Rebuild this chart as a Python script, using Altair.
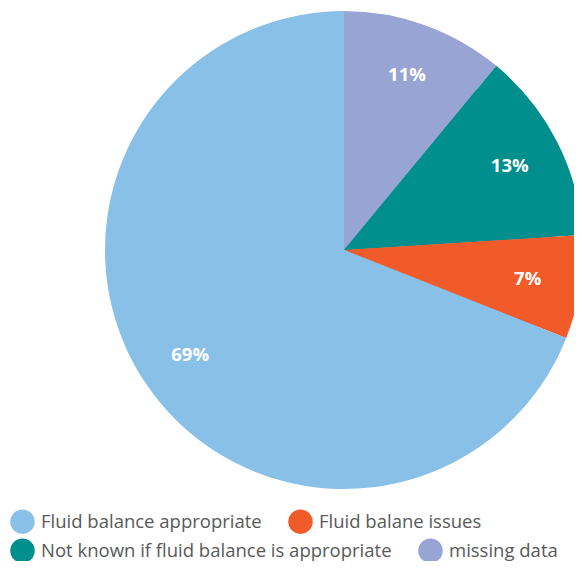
import altair as alt
import pandas as pd

categories = ["missing data", "Not known if fluid balance is appropriate", "Fluid balane issues", "Fluid balance appropriate"]
values = [11, 13, 7, 69]
labels = ["11%", "13%", "7%", "69%"]
colors = ["#98A5D4", "#008F8C", "#F15A29", "#88C0E8"]
legend_rows = [2, 2, 1, 1]
order = [1, 2, 3, 4]

df = pd.DataFrame({
    "category": categories,
    "value": values,
    "label": labels,
    "row": legend_rows,
    "order": order,
})

CX, CY, R = 336, 242, 239
FONT = "Open Sans"

row1 = ["Fluid balance appropriate", "Fluid balane issues"]
row1_colors = ["#88C0E8", "#F15A29"]
row2 = ["Not known if fluid balance is appropriate", "missing data"]
row2_colors = ["#008F8C", "#98A5D4"]


def legend(x, y):
    return alt.Legend(
        title=None, orient="none", legendX=x, legendY=y, direction="horizontal",
        symbolType="circle", symbolSize=600, symbolStrokeWidth=0,
        labelFont=FONT, labelFontSize=18.5, labelColor="#595959",
        labelOffset=6, columnPadding=26, padding=0, labelLimit=500,
    )


base = alt.Chart(df)

leg1 = base.transform_filter(alt.datum.row == 1).mark_arc(radius=R - 30).encode(
    theta=alt.Theta("value:Q", stack=True),
    order=alt.Order("order:Q"),
    x=alt.value(CX), y=alt.value(CY),
    color=alt.Color("category:N", scale=alt.Scale(domain=row1, range=row1_colors), legend=legend(2, 501)),
)

leg2 = base.transform_filter(alt.datum.row == 2).mark_arc(radius=R - 30).encode(
    theta=alt.Theta("value:Q", stack=True),
    order=alt.Order("order:Q"),
    x=alt.value(CX), y=alt.value(CY),
    color=alt.Color("category:N", scale=alt.Scale(domain=row2, range=row2_colors), legend=legend(2, 530)),
)

pie = base.mark_arc(radius=R).encode(
    theta=alt.Theta("value:Q", stack=True),
    order=alt.Order("order:Q"),
    x=alt.value(CX), y=alt.value(CY),
    color=alt.Color("category:N", scale=alt.Scale(domain=categories, range=colors), legend=None),
)

text = base.mark_text(radius=186, font=FONT, fontSize=18.5, fontWeight="bold", color="white").encode(
    theta=alt.Theta("value:Q", stack=True),
    order=alt.Order("order:Q"),
    x=alt.value(CX), y=alt.value(CY),
    text="label:N",
)

chart = alt.layer(leg1, leg2, pie, text).resolve_scale(color="independent").properties(
    width=566, height=553, padding=0, autosize=alt.AutoSizeParams(type="none"),
).configure_view(stroke=None)

chart.save("out.html", embed_options={"renderer": "svg", "actions": False})
